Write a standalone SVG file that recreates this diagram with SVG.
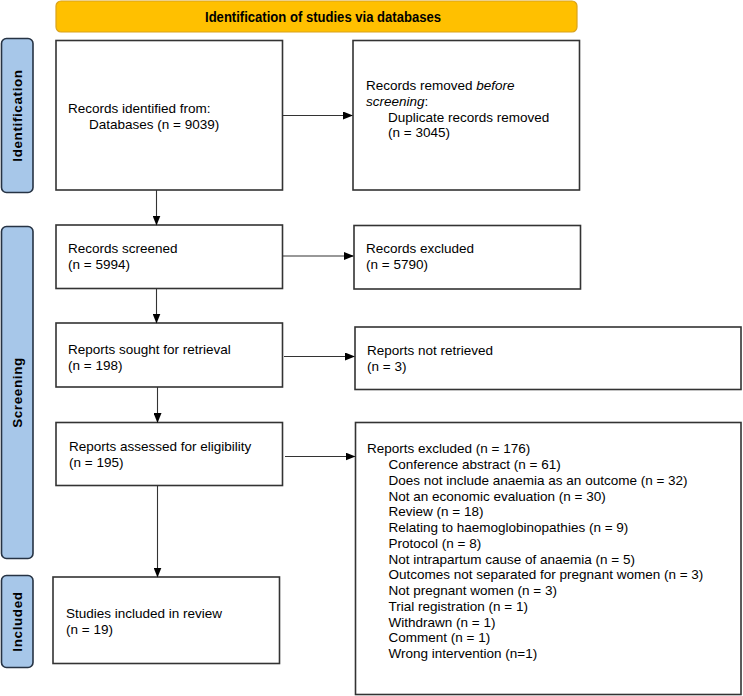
<svg xmlns="http://www.w3.org/2000/svg" width="743" height="696" viewBox="0 0 743 696">
<defs>
<marker id="ah" markerWidth="10" markerHeight="8" refX="9" refY="4" orient="auto" markerUnits="userSpaceOnUse">
<path d="M0,0 L10,4 L0,8 Z" fill="#000"/>
</marker>
<style>
.box{fill:#fff;stroke:#333;stroke-width:1.6}
.side{fill:#A7C7E9;stroke:#263344;stroke-width:1.6}
.hdr{fill:#FFC000;stroke:#D9A21B;stroke-width:1.2}
.t{font-family:"Liberation Sans",Arial,sans-serif;font-size:13.5px;fill:#000}
.hb{font-family:"Liberation Sans",Arial,sans-serif;font-size:14px;font-weight:bold;fill:#000}
.sl{font-family:"Liberation Sans",Arial,sans-serif;font-size:13.5px;font-weight:bold;fill:#000;letter-spacing:0.6px}
.c{stroke:#333;stroke-width:1.1;fill:none;marker-end:url(#ah)}
</style>
</defs>

<g id="header">
<rect class="hdr" x="56" y="1" width="521" height="31" rx="5"/>
<text class="hb" x="205" y="22" textLength="236" lengthAdjust="spacingAndGlyphs">Identification of studies via databases</text>
</g>

<g id="label-identification">
<rect class="side" x="1.5" y="38.5" width="31.5" height="154" rx="5"/>
<text class="sl" transform="translate(22,115.5) rotate(-90)" text-anchor="middle">Identification</text>
</g>
<g id="label-screening">
<rect class="side" x="1.5" y="226.5" width="31.5" height="332" rx="5"/>
<text class="sl" transform="translate(22,392.5) rotate(-90)" text-anchor="middle">Screening</text>
</g>
<g id="label-included">
<rect class="side" x="1.5" y="575.5" width="31.5" height="92" rx="5"/>
<text class="sl" transform="translate(22,621.5) rotate(-90)" text-anchor="middle">Included</text>
</g>

<g id="records-identified">
<rect class="box" x="56" y="40.5" width="226.5" height="149.5"/>
<text class="t" x="68" y="113">Records identified from:</text>
<text class="t" x="89" y="129">Databases (n = 9039)</text>
</g>
<g id="records-removed">
<rect class="box" x="353" y="40.5" width="226.5" height="149.5"/>
<text class="t" x="366" y="90">Records removed <tspan font-style="italic">before</tspan></text>
<text class="t" x="366" y="105.5"><tspan font-style="italic">screening</tspan>:</text>
<text class="t" x="388" y="121.5">Duplicate records removed</text>
<text class="t" x="388" y="137">(n = 3045)</text>
</g>

<g id="records-screened">
<rect class="box" x="56" y="225" width="226.5" height="63.5"/>
<text class="t" x="68" y="253">Records screened</text>
<text class="t" x="68" y="269">(n = 5994)</text>
</g>
<g id="records-excluded">
<rect class="box" x="354" y="225.5" width="226.5" height="63.5"/>
<text class="t" x="366" y="253">Records excluded</text>
<text class="t" x="366" y="269">(n = 5790)</text>
</g>

<g id="reports-sought">
<rect class="box" x="56" y="323" width="226.5" height="64"/>
<text class="t" x="68" y="353.5">Reports sought for retrieval</text>
<text class="t" x="68" y="369.5">(n = 198)</text>
</g>
<g id="reports-not-retrieved">
<rect class="box" x="355" y="327" width="386" height="62.5"/>
<text class="t" x="367" y="354.5">Reports not retrieved</text>
<text class="t" x="367" y="370.5">(n = 3)</text>
</g>

<g id="reports-assessed">
<rect class="box" x="56" y="422.5" width="226.5" height="63"/>
<text class="t" x="69" y="451">Reports assessed for eligibility</text>
<text class="t" x="69" y="467">(n = 195)</text>
</g>
<g id="reports-excluded">
<rect class="box" x="355.5" y="422.5" width="385.5" height="272"/>
<text class="t" x="367" y="453">Reports excluded (n = 176)</text>
<text class="t" x="388.5" y="469">Conference abstract (n = 61)</text>
<text class="t" x="388.5" y="484.75">Does not include anaemia as an outcome (n = 32)</text>
<text class="t" x="388.5" y="500.5">Not an economic evaluation (n = 30)</text>
<text class="t" x="388.5" y="516.25">Review (n = 18)</text>
<text class="t" x="388.5" y="532">Relating to haemoglobinopathies (n = 9)</text>
<text class="t" x="388.5" y="547.75">Protocol (n = 8)</text>
<text class="t" x="388.5" y="563.5">Not intrapartum cause of anaemia (n = 5)</text>
<text class="t" x="388.5" y="579.25">Outcomes not separated for pregnant women (n = 3)</text>
<text class="t" x="388.5" y="595">Not pregnant women (n = 3)</text>
<text class="t" x="388.5" y="610.75">Trial registration (n = 1)</text>
<text class="t" x="388.5" y="626.5">Withdrawn (n = 1)</text>
<text class="t" x="388.5" y="642.25">Comment (n = 1)</text>
<text class="t" x="388.5" y="658">Wrong intervention (n=1)</text>
</g>

<g id="studies-included">
<rect class="box" x="53" y="577" width="226.5" height="86.5"/>
<text class="t" x="66" y="618">Studies included in review</text>
<text class="t" x="66" y="634">(n = 19)</text>
</g>

<g id="connectors">
<line class="c" x1="282.5" y1="115.5" x2="352" y2="115.5"/>
<line class="c" x1="156.5" y1="190" x2="156.5" y2="224.5"/>
<line class="c" x1="282.5" y1="256" x2="353" y2="256"/>
<line class="c" x1="156.5" y1="288.5" x2="156.5" y2="322.5"/>
<line class="c" x1="284" y1="356.5" x2="354" y2="356.5"/>
<line class="c" x1="157.5" y1="387" x2="157.5" y2="422"/>
<line class="c" x1="285" y1="456.5" x2="354.5" y2="456.5"/>
<line class="c" x1="157.5" y1="485.5" x2="157.5" y2="576.5"/>
</g>
</svg>
